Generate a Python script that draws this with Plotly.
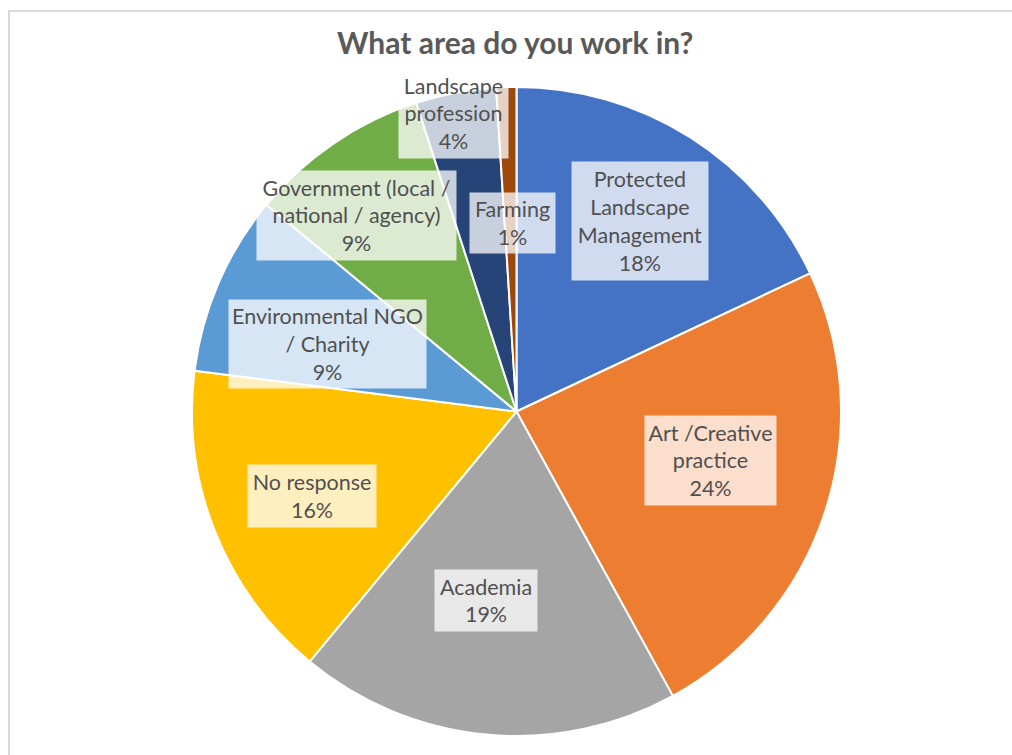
import math
import plotly.graph_objects as go

# ---- data ----
categories = [
    "Protected Landscape Management",
    "Art /Creative practice",
    "Academia",
    "No response",
    "Environmental NGO / Charity",
    "Government (local / national / agency)",
    "Landscape profession",
    "Farming",
]
values = [18, 24, 19, 16, 9, 9, 4, 1]
label_lines = [
    "Protected<br>Landscape<br>Management",
    "Art /Creative<br>practice",
    "Academia",
    "No response",
    "Environmental NGO<br>/ Charity",
    "Government (local /<br>national / agency)",
    "Landscape<br>profession",
    "Farming",
]

# ---- style ----
colors = ["#4472C4", "#ED7D31", "#A5A5A5", "#FFC000", "#5B9BD5", "#70AD47", "#264478", "#9E480E"]
label_r = [0.698, 0.617, 0.59, 0.68, 0.62, 0.78, 0.94, 0.58]      # radial position (fraction of radius)
label_da = [0.5, -3.7, 3.9, -0.8, -3.7, -5.0, -1.2, 0.7]          # angular nudge (deg)
box_w = [138, 133, 104, 130, 199, 201, 111, 87]
box_h = [120, 91, 63, 64, 90, 91, 91, 62]

W, H = 1012, 755
cx, cy, R = 516.5, 411.5, 324.5

fig = go.Figure(go.Pie(
    labels=categories,
    values=values,
    sort=False,
    direction="clockwise",
    rotation=0,
    marker=dict(colors=colors, line=dict(color="white", width=2)),
    textinfo="none",
    hoverinfo="label+percent",
    domain=dict(x=[(cx - R) / W, (cx + R) / W], y=[1 - (cy + R) / H, 1 - (cy - R) / H]),
    showlegend=False,
))

total = sum(values)
cum = 0
annotations = []
for i, v in enumerate(values):
    mid = (cum + v / 2) / total * 360 + label_da[i]
    cum += v
    a = math.radians(mid)
    px = cx + R * label_r[i] * math.sin(a)
    py = cy - R * label_r[i] * math.cos(a)
    pct = round(v / total * 100)
    annotations.append(dict(
        x=px / W, y=1 - py / H, xref="paper", yref="paper",
        xanchor="center", yanchor="middle",
        text=f"{label_lines[i]}<br>{pct}%",
        showarrow=False,
        font=dict(family="Lato", size=21.5, color="#505050"),
        bgcolor="rgba(255,255,255,0.75)",
        width=box_w[i] - 2, height=box_h[i] - 2,
        align="center", valign="middle", borderpad=0,
    ))

annotations.append(dict(
    x=515 / W, y=1 - 42 / H, xref="paper", yref="paper",
    xanchor="center", yanchor="middle",
    text="<b>What area do you work in?</b>", showarrow=False,
    font=dict(family="Lato", size=30, color="#595959"),
))

fig.update_layout(
    width=W, height=H,
    margin=dict(l=0, r=0, t=0, b=0),
    paper_bgcolor="white",
    plot_bgcolor="white",
    annotations=annotations,
    shapes=[dict(type="rect", xref="paper", yref="paper",
                 x0=9 / W, x1=1.02, y0=-0.02, y1=1 - 11 / H,
                 line=dict(color="#D9D9D9", width=2), layer="below")],
)

fig.write_html("out.html")
